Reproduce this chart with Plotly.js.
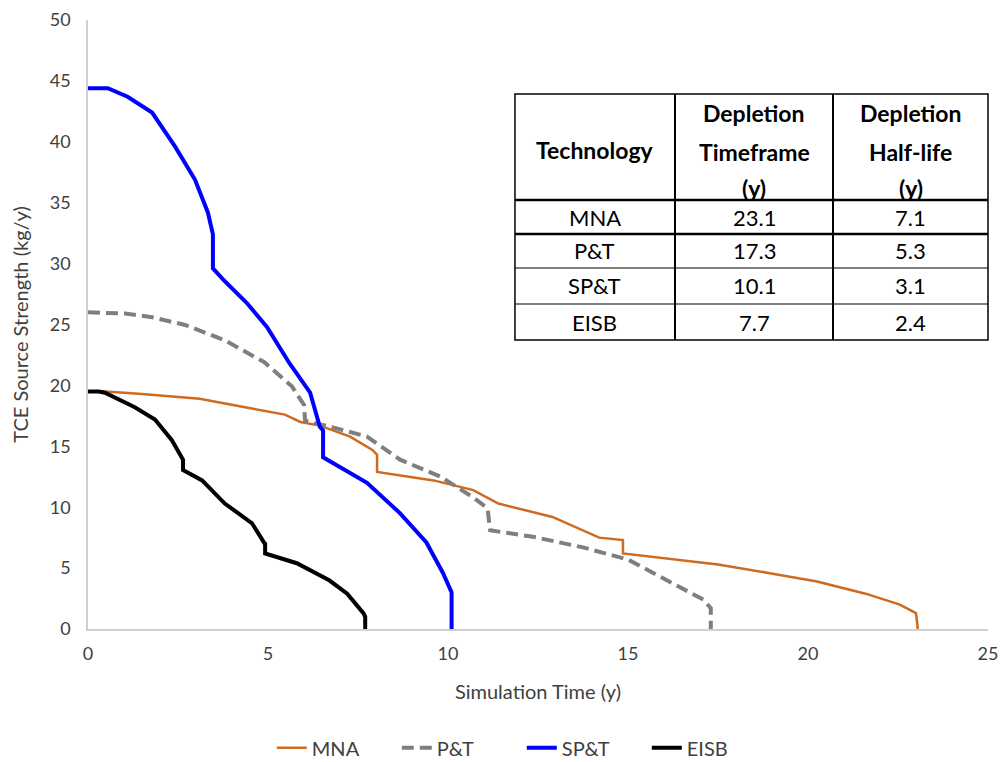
<!DOCTYPE html>
<html>
<head>
<meta charset="utf-8">
<script src="https://cdn.plot.ly/plotly-3.0.1.min.js"></script>
<style>html,body{margin:0;padding:0;background:#fff;}#chart{width:1003px;height:762px;}</style>
</head>
<body>
<div id="chart"></div>
<script>
// ---- data ----
const mnaX = [0, 0.5, 1.5, 2.9, 3.1, 4.55, 5.47, 5.9, 6.44, 7.28, 7.9, 8.03, 8.03, 9.6, 10.7, 11.4, 12.9, 14.2, 14.86, 14.86, 16.1, 17.5, 18.9, 20.25, 21.6, 22.55, 23.0, 23.05];
const mnaY = [19.5, 19.5, 19.3, 19.0, 18.9, 18.1, 17.6, 17.0, 16.7, 15.8, 14.7, 14.3, 12.9, 12.2, 11.4, 10.3, 9.2, 7.5, 7.3, 6.2, 5.8, 5.3, 4.6, 3.9, 2.9, 2.0, 1.3, 0];

const ptX = [0, 1.03, 1.78, 2.7, 3.8, 4.9, 5.67, 6.0, 6.03, 6.6, 7.75, 8.67, 9.8, 10.7, 11.1, 11.17, 12.4, 13.75, 15.0, 15.9, 16.6, 17.1, 17.3, 17.3];
const ptY = [26.0, 25.9, 25.6, 24.96, 23.7, 21.9, 19.9, 18.4, 17.1, 16.7, 15.8, 13.9, 12.5, 10.8, 9.9, 8.1, 7.55, 6.7, 5.7, 4.3, 3.2, 2.4, 1.7, 0];

const sptX = [0, 0.55, 1.1, 1.78, 2.42, 2.97, 3.33, 3.47, 3.47, 3.75, 4.4, 4.97, 5.6, 6.17, 6.44, 6.53, 6.53, 7.75, 8.67, 9.4, 9.86, 10.1, 10.1];
const sptY = [44.4, 44.4, 43.7, 42.4, 39.6, 36.9, 34.2, 32.4, 29.6, 28.7, 26.8, 24.8, 21.8, 19.4, 16.6, 16.3, 14.1, 12.0, 9.5, 7.1, 4.6, 3.0, 0];

const eisbX = [0, 0.3, 0.47, 1.3, 1.86, 2.33, 2.6, 2.64, 2.64, 3.17, 3.8, 4.55, 4.9, 4.92, 4.92, 5.8, 6.7, 7.2, 7.65, 7.7, 7.7];
const eisbY = [19.5, 19.5, 19.4, 18.2, 17.2, 15.5, 14.1, 13.9, 13.05, 12.2, 10.3, 8.7, 7.05, 7.0, 6.2, 5.4, 4.0, 2.9, 1.3, 1.0, 0];

const seriesNames = ["MNA", "P&T", "SP&T", "EISB"];

// table
const tableHeader = [["Technology"], ["Depletion", "Timeframe", "(y)"], ["Depletion", "Half-life", "(y)"]];
const tableTech = ["MNA", "P&T", "SP&T", "EISB"];
const tableTimeframe = ["23.1", "17.3", "10.1", "7.7"];
const tableHalfLife = ["7.1", "5.3", "3.1", "2.4"];

const FONT = "Lato, 'Open Sans', sans-serif";
const TXT = "#404040";

const traces = [
  {x: mnaX, y: mnaY, name: seriesNames[0], mode: "lines", line: {color: "#CF6A21", width: 2.5}},
  {x: ptX, y: ptY, name: seriesNames[1], mode: "lines", line: {color: "#7F7F7F", width: 4, dash: "12px,6px"}},
  {x: sptX, y: sptY, name: seriesNames[2], mode: "lines", line: {color: "#0000FF", width: 4}},
  {x: eisbX, y: eisbY, name: seriesNames[3], mode: "lines", line: {color: "#000000", width: 4}}
];

// table geometry (paper coords)
const colX = [0.4744, 0.6522, 0.8278, 1.0];
const rowY = [0.8785, 0.7044, 0.6486, 0.5928, 0.5337, 0.4745];

const shapes = [];
shapes.push({type: "rect", xref: "paper", yref: "paper", x0: colX[0], x1: colX[3], y0: rowY[5], y1: rowY[0], line: {color: "#000", width: 1.5}, fillcolor: "#fff", layer: "above"});
for (let i = 1; i < 3; i++) {
  shapes.push({type: "line", xref: "paper", yref: "paper", x0: colX[i], x1: colX[i], y0: rowY[5], y1: rowY[0], line: {color: "#000", width: 2}, layer: "above"});
}
const hw = [2.5, 2.5, 1.2, 1.2];
for (let j = 1; j < 5; j++) {
  shapes.push({type: "line", xref: "paper", yref: "paper", x0: colX[0], x1: colX[3], y0: rowY[j], y1: rowY[j], line: {color: "#000", width: hw[j - 1]}, layer: "above"});
}

const annotations = [];
const headerLineY = [[150], [113, 152, 188], [113, 152, 188]];
for (let c = 0; c < 3; c++) {
  const cx = (colX[c] + colX[c + 1]) / 2;
  tableHeader[c].forEach((t, k) => {
    const py = headerLineY[c][k];
    annotations.push({xref: "paper", yref: "paper", x: cx, y: (629 - py) / 609, text: "<b>" + t + "</b>", showarrow: false, xanchor: "center", yanchor: "middle", font: {family: FONT, size: 23, color: "#000"}});
  });
}
const cols = [tableTech, tableTimeframe, tableHalfLife];
for (let r = 0; r < 4; r++) {
  for (let c = 0; c < 3; c++) {
    annotations.push({xref: "paper", yref: "paper", x: (colX[c] + colX[c + 1]) / 2, y: (rowY[r + 1] + rowY[r + 2]) / 2, text: cols[c][r], showarrow: false, xanchor: "center", yanchor: "middle", font: {family: FONT, size: 22, color: "#000"}});
  }
}

const layout = {
  width: 1003, height: 762,
  margin: {l: 88, r: 15, t: 20, b: 133, autoexpand: false},
  paper_bgcolor: "#fff", plot_bgcolor: "#fff",
  font: {family: FONT, size: 18, color: TXT},
  xaxis: {
    range: [0, 25], tickvals: [0, 5, 10, 15, 20, 25], showgrid: false, zeroline: false,
    showline: true, linecolor: "#D0D0D0", linewidth: 1.5, ticks: "", automargin: false,
    ticklabelstandoff: 8,
    tickfont: {family: FONT, size: 18, color: TXT},
    title: {text: "Simulation Time (y)", font: {family: FONT, size: 20, color: TXT}, standoff: 22}
  },
  yaxis: {
    range: [0, 50], tickvals: [0, 5, 10, 15, 20, 25, 30, 35, 40, 45, 50], showgrid: false, zeroline: false,
    showline: true, linecolor: "#D0D0D0", linewidth: 1.5, ticks: "", automargin: false,
    ticklabelstandoff: 12,
    tickfont: {family: FONT, size: 18, color: TXT},
    title: {text: "TCE Source Strength (kg/y)", font: {family: FONT, size: 20, color: TXT}, standoff: 16}
  },
  showlegend: true,
  legend: {orientation: "h", x: 0.482, xanchor: "center", y: -0.195, yanchor: "middle", font: {family: FONT, size: 20, color: TXT}, entrywidth: 80, entrywidthmode: "pixels"},
  shapes: shapes,
  annotations: annotations
};

Plotly.newPlot("chart", traces, layout, {displayModeBar: false});
</script>
</body>
</html>
